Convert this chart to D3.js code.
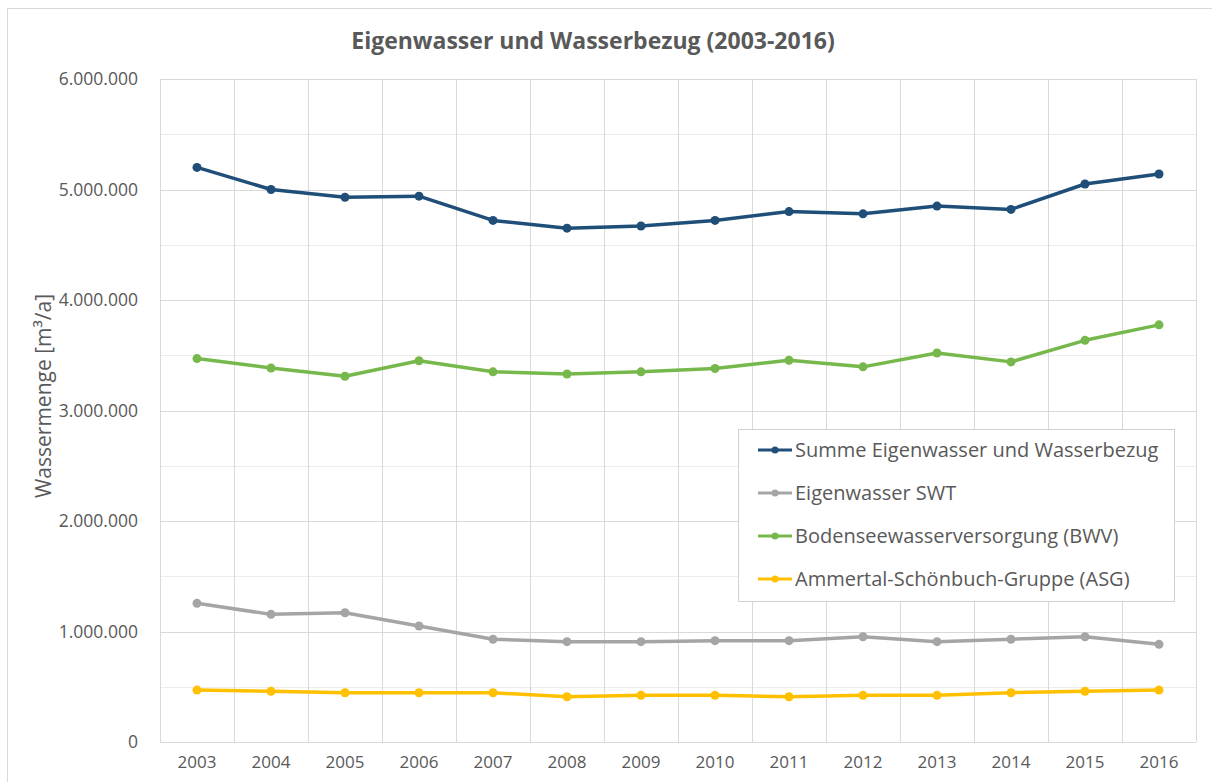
<!DOCTYPE html>
<html>
<head>
<meta charset="utf-8">
<script src="https://cdn.jsdelivr.net/npm/d3@7"></script>
<style>
  body { margin: 0; background: #fff; }
  text { font-family: "Open Sans", "Noto Sans", sans-serif; fill: #595959; }
</style>
</head>
<body>
<script>
// data
const years = ["2003", "2004", "2005", "2006", "2007", "2008", "2009", "2010", "2011", "2012", "2013", "2014", "2015", "2016"];
const summe = [5200000, 5000000, 4930000, 4940000, 4720000, 4650000, 4670000, 4720000, 4800000, 4780000, 4850000, 4820000, 5050000, 5140000];
const eigenSWT = [1255000, 1155000, 1170000, 1050000, 930000, 908000, 908000, 917000, 917000, 953000, 908000, 930000, 953000, 884000];
const bwv = [3470000, 3385000, 3310000, 3450000, 3350000, 3330000, 3350000, 3380000, 3455000, 3395000, 3520000, 3440000, 3635000, 3775000];
const asg = [470000, 459000, 446000, 446000, 446000, 410000, 422000, 422000, 410000, 422000, 422000, 446000, 459000, 470000];
const yTicks = [0, 1000000, 2000000, 3000000, 4000000, 5000000, 6000000];
const seriesNames = ["Summe Eigenwasser und Wasserbezug", "Eigenwasser SWT", "Bodenseewasserversorgung (BWV)", "Ammertal-Schönbuch-Gruppe (ASG)"];
const seriesValues = [summe, eigenSWT, bwv, asg];
const seriesColors = ["#1f4e79", "#a5a5a5", "#77b84c", "#ffc000"];

function init() {
    const w = 1212;
    const h = 782;
    const left = 160, right = 1196, top = 79, bottom = 742;

    const svg = d3.select("body").append("svg")
        .attr("width", w)
        .attr("height", h);

    // chart area frame
    svg.append("rect")
        .attr("x", 7.5).attr("y", 8.5)
        .attr("width", w).attr("height", h)
        .attr("fill", "none")
        .attr("stroke", "#d9d9d9");

    const x = d3.scaleBand().domain(years).range([left, right]);
    const y = d3.scaleLinear().domain([0, 6000000]).range([bottom, top]);

    // horizontal grid (major + minor)
    const minor = d3.range(500000, 6000000, 1000000);
    svg.append("g").selectAll("line").data(minor).join("line")
        .attr("x1", left).attr("x2", right)
        .attr("y1", d => Math.round(y(d)) + 0.5).attr("y2", d => Math.round(y(d)) + 0.5)
        .attr("stroke", "#ececec");
    svg.append("g").selectAll("line").data(yTicks).join("line")
        .attr("x1", left).attr("x2", right)
        .attr("y1", d => Math.round(y(d)) + 0.5).attr("y2", d => Math.round(y(d)) + 0.5)
        .attr("stroke", "#d9d9d9");

    // vertical grid at category boundaries
    const bounds = years.map(d => x(d)).concat([right]);
    svg.append("g").selectAll("line").data(bounds).join("line")
        .attr("x1", d => Math.round(d) + 0.5).attr("x2", d => Math.round(d) + 0.5)
        .attr("y1", top).attr("y2", bottom)
        .attr("stroke", "#d9d9d9");

    // axes
    const fmt = d => d === 0 ? "0" : d3.format(",")(d).replace(/,/g, ".");
    const yAxis = svg.append("g")
        .attr("transform", "translate(" + left + ",0)")
        .call(d3.axisLeft(y).tickValues(yTicks).tickFormat(fmt).tickSize(0).tickPadding(22));
    yAxis.select(".domain").remove();
    yAxis.selectAll("text").style("font-size", "17.5px").attr("fill", "#595959");

    const xAxis = svg.append("g")
        .attr("transform", "translate(0," + bottom + ")")
        .call(d3.axisBottom(x).tickSize(0).tickPadding(14));
    xAxis.select(".domain").remove();
    xAxis.selectAll("text").style("font-size", "17px").attr("fill", "#595959");

    // title
    svg.append("text")
        .attr("x", 593).attr("y", 49)
        .attr("text-anchor", "middle")
        .style("font-size", "23px")
        .style("font-weight", "bold")
        .text("Eigenwasser und Wasserbezug (2003-2016)");

    svg.append("text")
        .attr("transform", "translate(51,396) rotate(-90)")
        .attr("text-anchor", "middle")
        .style("font-size", "21px")
        .text("Wassermenge [m³/a]");

    // lines
    const line = d3.line()
        .x((d, i) => x(years[i]) + x.bandwidth() / 2)
        .y(d => y(d));

    seriesValues.forEach((vals, k) => {
        svg.append("path")
            .attr("d", line(vals))
            .attr("fill", "none")
            .attr("stroke", seriesColors[k])
            .attr("stroke-width", 3.5)
            .attr("stroke-linejoin", "round");
        svg.append("g").selectAll("circle").data(vals).join("circle")
            .attr("cx", (d, i) => x(years[i]) + x.bandwidth() / 2)
            .attr("cy", d => y(d))
            .attr("r", 4.5)
            .attr("fill", seriesColors[k]);
    });

    // legend
    const lg = svg.append("g").attr("transform", "translate(738,429)");
    lg.append("rect")
        .attr("x", 0.5).attr("y", 0.5)
        .attr("width", 436).attr("height", 172)
        .attr("fill", "#fff")
        .attr("stroke", "#d0d0d0");
    seriesNames.forEach((name, k) => {
        const cy = 21 + k * 43;
        lg.append("line")
            .attr("x1", 20).attr("x2", 54)
            .attr("y1", cy).attr("y2", cy)
            .attr("stroke", seriesColors[k]).attr("stroke-width", 3);
        lg.append("circle")
            .attr("cx", 37).attr("cy", cy).attr("r", 3.5)
            .attr("fill", seriesColors[k]);
        lg.append("text")
            .attr("x", 57).attr("y", cy)
            .attr("dy", "0.35em")
            .style("font-size", "20px")
            .text(name);
    });
}

window.onload = init;
</script>
</body>
</html>
